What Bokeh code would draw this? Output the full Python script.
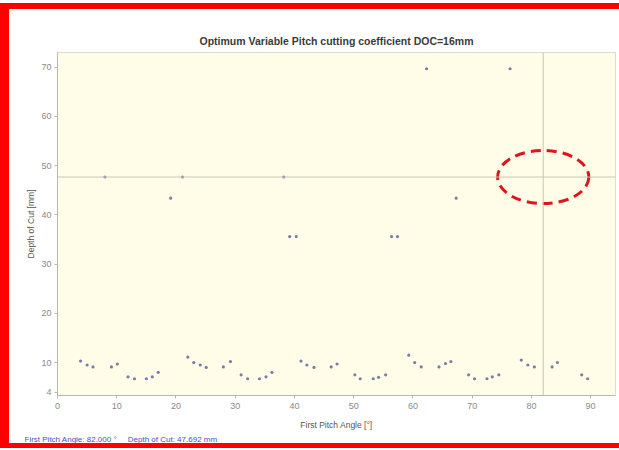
from bokeh.plotting import figure
from bokeh.models import Span, Title, FixedTicker
from bokeh.embed import file_html
from bokeh.resources import INLINE

# ---- data ----
pitch_angle = [3.9, 5.0, 6.0, 9.1, 10.1, 11.9, 13.0, 15.0, 16.0, 17.0,
               22.0, 23.0, 24.1, 25.1, 28.0, 29.2, 31.0, 32.1, 34.1, 35.2, 36.2,
               41.1, 42.1, 43.3, 46.2, 47.2, 50.2, 51.1, 53.3, 54.2, 55.4,
               59.3, 60.3, 61.4, 64.4, 65.5, 66.4, 69.4, 70.4, 72.5, 73.4, 74.5,
               78.3, 79.4, 80.5, 83.5, 84.4, 88.5, 89.5,
               8.0, 19.1, 21.1, 38.2, 39.2, 40.3, 56.4, 57.4, 62.3, 67.3, 76.4]
depth_of_cut = [10.3, 9.5, 9.1, 9.1, 9.7, 7.1, 6.7, 6.7, 7.1, 8.0,
                11.1, 10.0, 9.5, 9.0, 9.1, 10.2, 7.5, 6.7, 6.7, 7.1, 8.0,
                10.3, 9.5, 9.0, 9.1, 9.7, 7.5, 6.7, 6.7, 7.0, 7.5,
                11.5, 10.0, 9.1, 9.1, 9.8, 10.2, 7.5, 6.7, 6.7, 7.1, 7.5,
                10.5, 9.5, 9.1, 9.1, 10.0, 7.5, 6.7,
                47.7, 43.4, 47.7, 47.7, 35.6, 35.6, 35.6, 35.6, 69.7, 43.4, 69.7]
cursor_angle = 82.0
cursor_depth = 47.692
highlight_w = 15.4
highlight_h = 10.8
x_ticks = [0, 10, 20, 30, 40, 50, 60, 70, 80, 90]
y_ticks = [4, 10, 20, 30, 40, 50, 60, 70]

p = figure(width=610, height=434, x_range=(0, 94.2), y_range=(3.3, 73),
           output_backend="svg", toolbar_location=None,
           background_fill_color="#fffde8", border_fill_color="white",
           min_border_left=48, min_border_right=4, min_border_top=43, min_border_bottom=44,
           title="Optimum Variable Pitch cutting coefficient DOC=16mm")
# red frame of the picture drawn as outer shadows (left, top and bottom bands only)
p.styles = {"margin-left": "9px", "margin-top": "9px",
            "box-shadow": ("-9px 0px 0px 0px #ff0000, 0px -6px 0px 0px #ff0000, "
                           "0px 5px 0px 0px #ff0000, -9px -6px 0px 0px #ff0000, "
                           "-9px 5px 0px 0px #ff0000")}
p.title.align = "center"
p.title.text_font = "Liberation Sans"
p.title.text_font_size = "10.5px"
p.title.text_font_style = "bold"
p.title.text_color = "#3a3a3a"
p.title.standoff = 11

p.grid.visible = False
p.outline_line_color = "#dedbd0"

for ax in (p.xaxis[0], p.yaxis[0]):
    ax.axis_line_color = "#b8b8b0"
    ax.major_tick_line_color = "#b8b8b0"
    ax.major_tick_out = 3
    ax.major_tick_in = 0
    ax.minor_tick_line_color = None
    ax.major_label_text_font = "Liberation Sans"
    ax.major_label_text_font_size = "9px"
    ax.major_label_text_color = "#8a8a8a"
    ax.axis_label_text_font = "Liberation Sans"
    ax.axis_label_text_font_size = "8.5px"
    ax.axis_label_text_font_style = "normal"
    ax.axis_label_text_color = "#555555"

p.xaxis.ticker = FixedTicker(ticks=x_ticks)
p.yaxis.ticker = FixedTicker(ticks=y_ticks)
p.xaxis.axis_label = "First Pitch Angle [°]"
p.yaxis.axis_label = "Depth of Cut [mm]"
p.xaxis.major_label_standoff = 4
p.xaxis.axis_label_standoff = 8
p.yaxis.major_label_standoff = 3
p.yaxis.axis_label_standoff = 2

p.add_layout(Span(location=cursor_depth, dimension="width", line_color="#c9c8b4", line_width=1))
p.add_layout(Span(location=cursor_angle, dimension="height", line_color="#c9c8b4", line_width=1))

p.scatter(pitch_angle, depth_of_cut, size=3.2, fill_color="#7c7cab", line_color=None)

p.ellipse(x=[cursor_angle], y=[cursor_depth], width=highlight_w, height=highlight_h,
          fill_color=None, line_color="#e0141c", line_width=3, line_dash="10 6")

gap = "\u00a0" * 5
status = f"First Pitch Angle: {cursor_angle:.3f} °{gap}Depth of Cut: {cursor_depth:.3f} mm"
p.add_layout(Title(text=status, align="left", offset=-33, standoff=0,
                   text_font="Liberation Sans", text_font_size="8px",
                   text_font_style="normal", text_color="#3a55c8"), "below")

open("out.html", "w").write(file_html(p, INLINE))
